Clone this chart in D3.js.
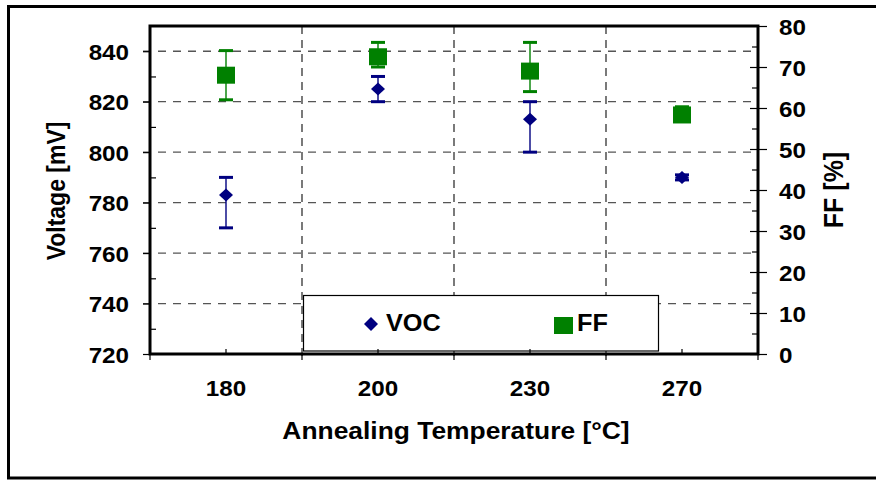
<!DOCTYPE html>
<html><head><meta charset="utf-8">
<script src="https://cdn.jsdelivr.net/npm/d3@7"></script>
<style>
html,body{margin:0;padding:0;background:#fff;}
text{font-family:"Liberation Sans",Arial,sans-serif;font-weight:bold;fill:#000;}
</style></head>
<body>
<svg id="c" width="876" height="480"></svg>
<script>
// ---- data ----
const categories = ["180", "200", "230", "270"];
const vocValues = [783, 825, 813, 790];
const vocLow = [770, 820, 800, 789];
const vocHigh = [790, 830, 820, 791];
const ffValues = [68, 72.5, 69, 58.3];
const ffLow = [62, 70, 64, 57];
const ffHigh = [74, 76, 76, 60.3];
const leftTicks = [720, 740, 760, 780, 800, 820, 840];
const leftMinor = [730, 750, 770, 790, 810, 830];
const rightTicks = [0, 10, 20, 30, 40, 50, 60, 70, 80];
const rightMinor = [5, 15, 25, 35, 45, 55, 65, 75];

const NAVY = "#000080", GREEN = "#008000";
const SX = 1.1; // horizontal stretch of the original rendering

const svg = d3.select("#c");
const L = 150, R = 758, T = 26, B = 354;

const x = d3.scaleBand().domain(categories).range([L, R]).padding(0);
const yL = d3.scaleLinear().domain([720, 850]).range([B, T]);
const yR = d3.scaleLinear().domain([0, 80]).range([B, T]);
const cx = c => x(c) + x.bandwidth() / 2;

// outer frame
svg.append("rect").attr("x", 8.5).attr("y", 6.5).attr("width", 880).attr("height", 471.5)
  .attr("fill", "none").attr("stroke", "#000").attr("stroke-width", 3);

// gridlines
const grid = svg.append("g");
grid.selectAll("line.h").data(leftTicks.filter(v => v > 720)).join("line")
  .attr("x1", L - 7).attr("x2", R).attr("y1", d => yL(d)).attr("y2", d => yL(d))
  .attr("stroke", "#555").attr("stroke-width", 1.3).attr("stroke-dasharray", "8,7");
const bounds = [1, 2, 3].map(i => x(categories[i]));
grid.selectAll("line.v").data(bounds).join("line")
  .attr("x1", d => d).attr("x2", d => d).attr("y1", T).attr("y2", B + 6)
  .attr("stroke", "#333").attr("stroke-width", 1.3).attr("stroke-dasharray", "8,6");

// legend box (drawn over grid)
const leg = svg.append("g");
leg.append("rect").attr("x", 303.5).attr("y", 295.5).attr("width", 355).attr("height", 55.5)
  .attr("fill", "#fff").attr("stroke", "#000").attr("stroke-width", 1.2);
leg.append("path").attr("d", "M371,317L378,324L371,331L364,324Z").attr("fill", NAVY);
leg.append("text").attr("transform", "translate(386,331) scale(" + SX + ",1)")
  .style("font-size", "23px").text("VOC");
leg.append("rect").attr("x", 554).attr("y", 317).attr("width", 19).attr("height", 17).attr("fill", GREEN);
leg.append("text").attr("transform", "translate(577,331) scale(" + SX + ",1)")
  .style("font-size", "23px").text("FF");

// axes
function styleAxis(g) {
  g.select(".domain").remove();
  g.selectAll(".tick line").attr("stroke", "#000").attr("stroke-width", 1.2);
}
// left
const gl = svg.append("g").attr("transform", `translate(${L},0)`)
  .call(d3.axisLeft(yL).tickValues(leftTicks).tickSize(7).tickFormat(d3.format("d")));
styleAxis(gl);
gl.selectAll(".tick text").attr("x", null).attr("dy", null)
  .attr("transform", `translate(-21,8) scale(${SX},1)`).attr("text-anchor", "end")
  .style("font-size", "22px").style("font-family", null);
svg.append("g").attr("transform", `translate(${L},0)`)
  .call(d3.axisLeft(yL).tickValues(leftMinor).tickSize(-6).tickFormat(""))
  .call(styleAxis);
// right
const gr = svg.append("g").attr("transform", `translate(${R},0)`)
  .call(d3.axisRight(yR).tickValues(rightTicks).tickSize(9).tickFormat(d3.format("d")));
styleAxis(gr);
gr.selectAll(".tick text").attr("x", null).attr("dy", null)
  .attr("transform", `translate(21,8) scale(${SX},1)`).attr("text-anchor", "start")
  .style("font-size", "22px").style("font-family", null);
svg.append("g").attr("transform", `translate(${R},0)`)
  .call(d3.axisRight(yR).tickValues(rightTicks.filter(v => v < 80)).tickSize(-8).tickFormat(""))
  .call(styleAxis);
svg.append("g").attr("transform", `translate(${R},0)`)
  .call(d3.axisRight(yR).tickValues(rightMinor).tickSize(-6).tickFormat(""))
  .call(styleAxis);
// bottom
const gb = svg.append("g").attr("transform", `translate(0,${B})`)
  .call(d3.axisBottom(x).tickSize(-5));
styleAxis(gb);
gb.selectAll(".tick text").attr("y", null).attr("dy", null)
  .attr("transform", `translate(0,42) scale(${SX},1)`).attr("text-anchor", "middle")
  .style("font-size", "22px").style("font-family", null);
svg.append("g").selectAll("line").data([L, ...bounds, R]).join("line")
  .attr("x1", d => d).attr("x2", d => d).attr("y1", B).attr("y2", B + 6)
  .attr("stroke", "#000").attr("stroke-width", 1.2);

// plot frame
svg.append("rect").attr("x", L).attr("y", T).attr("width", R - L).attr("height", B - T)
  .attr("fill", "none").attr("stroke", "#000").attr("stroke-width", 3);

// error bars
function errorBars(vals, lo, hi, scale, color) {
  const g = svg.append("g");
  categories.forEach((c, i) => {
    const xc = cx(c);
    g.append("line").attr("x1", xc).attr("x2", xc).attr("y1", scale(lo[i])).attr("y2", scale(hi[i]))
      .attr("stroke", color).attr("stroke-width", 1.4);
    [lo[i], hi[i]].forEach(v => {
      g.append("line").attr("x1", xc - 7).attr("x2", xc + 7).attr("y1", scale(v)).attr("y2", scale(v))
        .attr("stroke", color).attr("stroke-width", 3);
    });
  });
}
errorBars(vocValues, vocLow, vocHigh, yL, NAVY);
errorBars(ffValues, ffLow, ffHigh, yR, GREEN);

// markers
svg.append("g").selectAll("path").data(vocValues).join("path")
  .attr("d", (d, i) => {
    const xc = cx(categories[i]), yc = yL(d);
    return `M${xc},${yc - 6.5}L${xc + 7},${yc}L${xc},${yc + 6.5}L${xc - 7},${yc}Z`;
  }).attr("fill", NAVY);
svg.append("g").selectAll("rect").data(ffValues).join("rect")
  .attr("x", (d, i) => cx(categories[i]) - 9).attr("y", d => yR(d) - 8.5)
  .attr("width", 18).attr("height", 17).attr("fill", GREEN);

// titles
svg.append("text").attr("transform", `translate(456,439) scale(${SX},1)`)
  .attr("text-anchor", "middle").style("font-size", "24px").text("Annealing Temperature [°C]");
svg.append("text").attr("transform", `translate(65,191) scale(${SX},1) rotate(-90)`)
  .attr("text-anchor", "middle").style("font-size", "23px").text("Voltage [mV]");
svg.append("text").attr("transform", `translate(843,190) scale(${SX},1) rotate(-90)`)
  .attr("text-anchor", "middle").style("font-size", "25px").text("FF [%]");
</script>
</body></html>
